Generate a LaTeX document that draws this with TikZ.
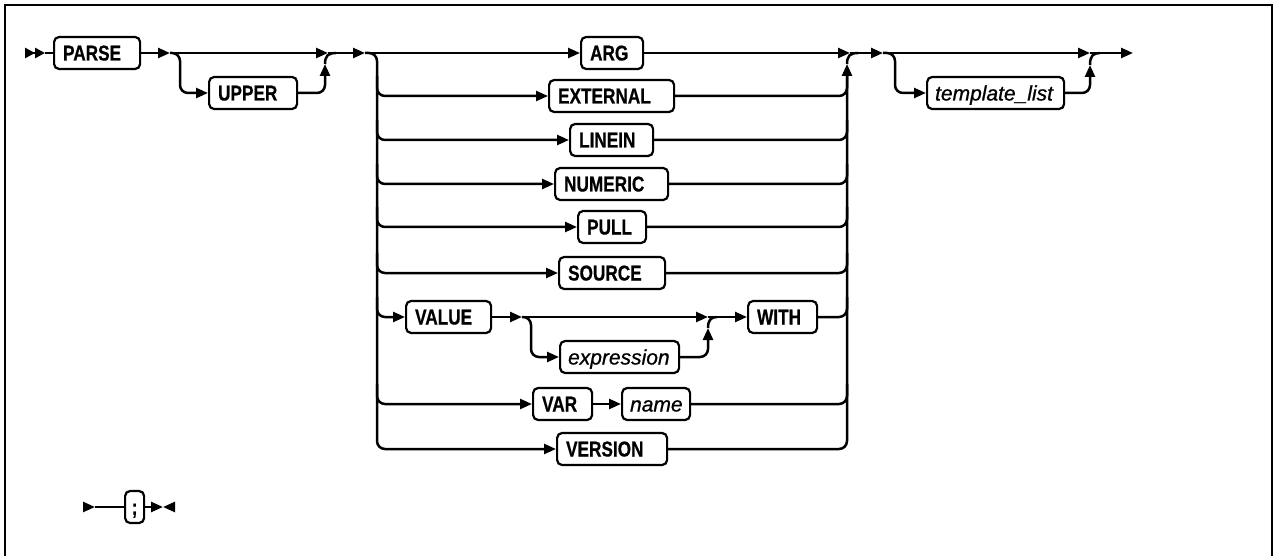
\documentclass[tikz,border=0pt]{standalone}
\usepackage{fontspec}
\newfontfamily\kwfont[FakeStretch=0.8,FakeBold=0.6]{Liberation Sans}
\newfontfamily\itfont[FakeBold=0.8]{Liberation Sans}
\usetikzlibrary{arrows.meta,calc}
\begin{document}
\begin{tikzpicture}[x=1pt,y=-1pt,line width=2.5pt,
  >={Triangle[length=12pt,width=10pt]},
  rc/.style={rounded corners=8pt},
  kwbox/.style={draw,line width=2.2pt,rounded corners=5pt,anchor=west,
    font=\kwfont\bfseries\fontsize{21.5pt}{24pt}\selectfont,
    text height=19pt,text depth=4pt,inner ysep=4.5pt,inner xsep=9pt,
    align=left,text width=#1},
  varbox/.style={kwbox=#1,inner xsep=8pt,font=\itfont\itshape\fontsize{21pt}{24pt}\selectfont},
  semibox/.style={kwbox=6pt,inner xsep=6.5pt,align=center}]
\useasboundingbox (0,0) rectangle (1274,556);
% frame
\draw[line width=2.6pt] (5,556) -- (5,5) -- (1272,5) -- (1272,556);

% nodes
\node[kwbox=68pt] (parse) at (53,53) {PARSE};
\node[kwbox=70pt] (upper) at (208,93) {UPPER};
\node[kwbox=44pt] (arg) at (580,53) {ARG};
\node[kwbox=107pt] (external) at (548,96) {EXTERNAL};
\node[kwbox=65pt] (linein) at (569,140) {LINEIN};
\node[kwbox=95pt] (numeric) at (554,184) {NUMERIC};
\node[kwbox=50pt] (pull) at (577,227) {PULL};
\node[kwbox=88pt] (source) at (558,273) {SOURCE};
\node[kwbox=67pt] (value) at (405,317) {VALUE};
\node[varbox=103pt] (expression) at (559,357) {expression};
\node[kwbox=51pt] (with) at (747,317) {WITH};
\node[kwbox=41pt] (var) at (532,404) {VAR};
\node[varbox=52pt] (name) at (621,404) {name};
\node[kwbox=92pt] (version) at (556,449) {VERSION};
\node[varbox=121pt] (tl) at (926,93) {template\_list};
\node[semibox] (semi) at (124,507) {;};

% coordinates
\coordinate (s0) at (25,53);
\coordinate (s1) at (45,53);
\coordinate (b1) at (170,53);
\coordinate (v1) at (180,53);
\coordinate (j1) at (328,53);
\coordinate (j1u) at (325,64);
\coordinate (j1c) at (336,53);
\coordinate (b2) at (365,53);
\coordinate (vL) at (377,53);
\coordinate (j2) at (850,53);
\coordinate (vR) at (847,53);
\coordinate (j2u) at (847,64);
\coordinate (j2c) at (858,53);
\coordinate (b3) at (883,53);
\coordinate (vT) at (895,53);
\coordinate (j3) at (1090,53);
\coordinate (j3u) at (1090,65);
\coordinate (j3c) at (1100,53);
\coordinate (e) at (1133,53);
\coordinate (b4) at (522,317);
\coordinate (v4) at (531,317);
\coordinate (j4) at (708,317);
\coordinate (j4u) at (708,328);
\coordinate (j4c) at (717,317);
\coordinate (t0) at (83,507);
\coordinate (t1) at (95,507);
\coordinate (t2) at (163,507);
\coordinate (t3) at (175,507);

% start
\draw[-{Triangle[length=10pt,width=10pt,sep=0pt]Triangle[length=10pt,width=10pt,sep=0pt]}] (s0) -- (s1);
\draw (s1) -- (parse.west);
\draw[->] (parse.east) -- (b1);
\draw[->] (b1) -- (j1);
\draw[rc,->] (b1) -| (v1 |- upper.west) -- (upper.west);
\draw[rc,->] (upper.east) -| (j1u);
\draw (j1u) .. controls (325,56) and (328,53) .. (j1c);
\draw[->] (j1) -- (b2);

% big choice
\draw[->] (b2) -- (arg.west);
\draw[rc,->] (b2) -| (vL |- version.west) -- (version.west);
\foreach \n in {external,linein,numeric,pull,source,value,var}{
  \draw[rc,->] ($(vL |- \n.west)+(0,-20)$) |- (\n.west);
}
\draw[->] (arg.east) -- (j2);
\draw[rc,->] (version.east) -| (j2u);
\foreach \n in {external,linein,numeric,pull,source,with,name}{
  \draw[rc] (\n.east) -| ($(vR |- \n.east)+(0,-20)$);
}
\draw (j2u) .. controls (847,56) and (850,53) .. (j2c);
\draw[->] (j2) -- (b3);

% VALUE row
\draw[->] (value.east) -- (b4);
\draw[->] (b4) -- (j4);
\draw[->] (j4) -- (with.west);
\draw[rc,->] (b4) -| (v4 |- expression.west) -- (expression.west);
\draw[rc,->] (expression.east) -| (j4u);
\draw (j4u) .. controls (708,320) and (711,317) .. (j4c);

% VAR row
\draw[->] (var.east) -- (name.west);

% template_list
\draw[->] (b3) -- (j3);
\draw[rc,->] (b3) -| (vT |- tl.west) -- (tl.west);
\draw[rc,->] (tl.east) -| (j3u);
\draw (j3u) .. controls (1090,56) and (1093,53) .. (j3c);
\draw[->] (j3) -- (e);

% semicolon line
\draw[->] (t0) -- (t1);
\draw (t1) -- (semi.west);
\draw[->] (semi.east) -- (t2);
\draw[->] (t3) -- (t2);
\end{tikzpicture}
\end{document}
